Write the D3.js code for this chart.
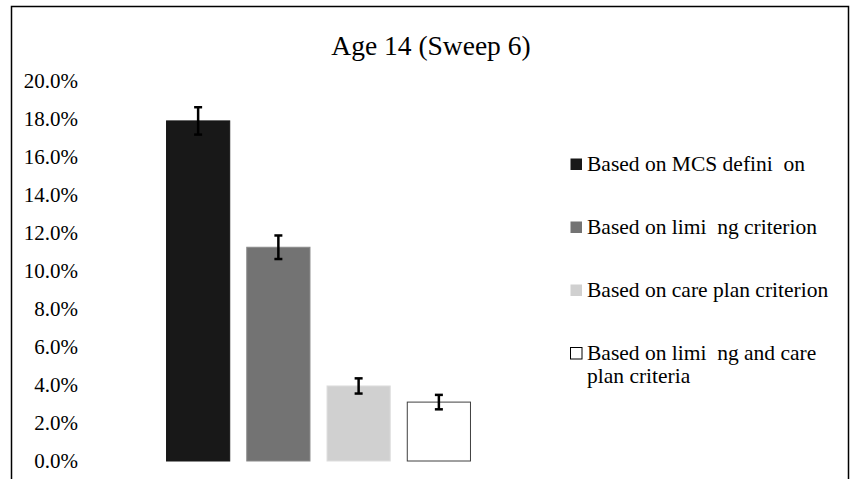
<!DOCTYPE html>
<html><head><meta charset="utf-8">
<script src="https://cdn.jsdelivr.net/npm/d3@7"></script>
<style>body{margin:0;background:#fff}svg{display:block}</style>
</head><body>
<script>
const title = "Age 14 (Sweep 6)";
const categories = ["Based on MCS defini  on", "Based on limi  ng criterion", "Based on care plan criterion", "Based on limi  ng and care plan criteria"];
const legendLines = [["Based on MCS defini  on"], ["Based on limi  ng criterion"], ["Based on care plan criterion"], ["Based on limi  ng and care", "plan criteria"]];
const values = [17.9, 11.25, 3.95, 3.1];
const errors = [0.72, 0.62, 0.4, 0.38];
const yTicks = [0, 2, 4, 6, 8, 10, 12, 14, 16, 18, 20];
const fills = ["#181818", "#737373", "#d0d0d0", "#ffffff"];
const strokes = ["#181818", "#8a8a8a", "#dedede", "#404040"];

const FONT = '"Liberation Serif", "Times New Roman", serif';
const W = 851, H = 479;
const svg = d3.select("body").append("svg").attr("width", W).attr("height", H).attr("font-family", FONT);
svg.append("path").attr("d", `M11.5,${H} V6.5 H848.5 V${H}`).attr("fill", "none").attr("stroke", "#000").attr("stroke-width", 1.5);

const y = d3.scaleLinear().domain([0, 20]).range([461, 81]);
const x = d3.scaleBand().domain(categories).range([158, 479]).paddingInner(0.2).paddingOuter(0.1);

svg.append("text").attr("x", 431).attr("y", 55).attr("text-anchor", "middle").attr("font-family", FONT).attr("font-size", 27.5).attr("fill", "#000").text(title);

const yAxis = d3.axisLeft(y).tickValues(yTicks).tickSize(0).tickPadding(0).tickFormat(d => d.toFixed(1) + "%");
const ga = svg.append("g").attr("transform", "translate(78,0)").call(yAxis);
ga.select(".domain").remove();
ga.attr("font-family", FONT).attr("font-size", 21);
ga.selectAll("text").attr("font-family", FONT).attr("font-size", 21).attr("dy", "0.3em").attr("fill", "#000");

svg.selectAll("rect.bar").data(values).join("rect").attr("class", "bar")
  .attr("x", (d, i) => x(categories[i]) + 0.5)
  .attr("width", x.bandwidth() - 1)
  .attr("y", d => y(d))
  .attr("height", d => y(0) - y(d))
  .attr("fill", (d, i) => fills[i])
  .attr("stroke", (d, i) => strokes[i])
  .attr("stroke-width", 1);

const eb = svg.selectAll("g.err").data(values).join("g").attr("class", "err");
eb.append("line").attr("x1", (d, i) => x(categories[i]) + x.bandwidth() / 2).attr("x2", (d, i) => x(categories[i]) + x.bandwidth() / 2)
  .attr("y1", (d, i) => y(d + errors[i])).attr("y2", (d, i) => y(d - errors[i])).attr("stroke", "#000").attr("stroke-width", 2.5);
[1, -1].forEach(s => {
  eb.append("line").attr("x1", (d, i) => x(categories[i]) + x.bandwidth() / 2 - 4).attr("x2", (d, i) => x(categories[i]) + x.bandwidth() / 2 + 4)
    .attr("y1", (d, i) => y(d + s * errors[i])).attr("y2", (d, i) => y(d + s * errors[i])).attr("stroke", "#000").attr("stroke-width", 2.5);
});

const leg = svg.append("g");
const ly = d3.scaleLinear().domain([0, 3]).range([164, 353]);
categories.forEach((c, i) => {
  const g = leg.append("g").attr("transform", `translate(0,${ly(i)})`);
  g.append("rect").attr("x", 570.5).attr("y", -5.5).attr("width", 11.5).attr("height", 11.5)
    .attr("fill", fills[i]).attr("stroke", i === 3 ? "#000" : "none").attr("stroke-width", 1);
  const t = g.append("text").attr("x", 587).attr("y", 6.5).attr("font-family", FONT).attr("font-size", 21.5).attr("fill", "#000").style("white-space", "pre");
  legendLines[i].forEach((ln, j) => {
    t.append("tspan").attr("x", 587).attr("dy", j === 0 ? 0 : 23).text(ln);
  });
});
</script>
</body></html>
